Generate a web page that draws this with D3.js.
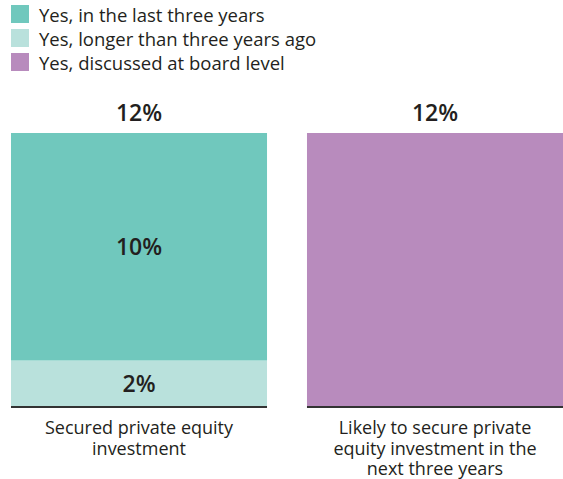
<!DOCTYPE html>
<html>
<head>
<meta charset="utf-8">
<script src="https://cdn.jsdelivr.net/npm/d3@7"></script>
<style>
  html, body { margin: 0; padding: 0; background: #fff; }
  svg { display: block; font-family: "Open Sans", Lato, sans-serif; }
</style>
</head>
<body>
<svg id="chart" width="563" height="479"></svg>
<script>
// Categories (multi-line labels) and stacked series values, in percent
const categories = ["Secured private equity investment", "Likely to secure private equity investment in the next three years"];
const categoryLines = [
  ["Secured private equity", "investment"],
  ["Likely to secure private", "equity investment in the", "next three years"]
];
const seriesNames = ["Yes, longer than three years ago", "Yes, in the last three years", "Yes, discussed at board level"];
const longerAgo = [2, 0];
const lastThree = [10, 0];
const boardLevel = [0, 12];
const totals = [12, 12];
const legendOrder = ["Yes, in the last three years", "Yes, longer than three years ago", "Yes, discussed at board level"];

const colors = {
  "Yes, in the last three years": "#70c8bd",
  "Yes, longer than three years ago": "#b9e1dc",
  "Yes, discussed at board level": "#b88bbd"
};

const svg = d3.select("#chart");
const textColor = "#231f20";

const x = d3.scaleBand().domain(categories).range([11, 563]).paddingInner(0.135).paddingOuter(0);
const y = d3.scaleLinear().domain([0, 12]).range([406, 133]);

const rows = categories.map((c, i) => ({
  category: c,
  "Yes, longer than three years ago": longerAgo[i],
  "Yes, in the last three years": lastThree[i],
  "Yes, discussed at board level": boardLevel[i]
}));
const stacked = d3.stack().keys(seriesNames)(rows);

// Bars
svg.append("g").selectAll("g")
  .data(stacked)
  .join("g")
  .attr("fill", d => colors[d.key])
  .selectAll("rect")
  .data(d => d.filter(p => p[1] - p[0] > 0))
  .join("rect")
  .attr("x", d => x(d.data.category))
  .attr("width", x.bandwidth())
  .attr("y", d => y(d[1]))
  .attr("height", d => y(d[0]) - y(d[1]));

// Segment labels (only on stacks that have more than one segment)
svg.append("g").selectAll("g")
  .data(stacked)
  .join("g")
  .selectAll("text")
  .data(d => d.filter(p => p[1] - p[0] > 0 && p[1] - p[0] < 12))
  .join("text")
  .attr("x", d => x(d.data.category) + x.bandwidth() / 2)
  .attr("y", d => (y(d[0]) + y(d[1])) / 2)
  .attr("dy", "0.36em")
  .attr("text-anchor", "middle")
  .attr("font-size", 23)
  .attr("font-weight", 600)
  .attr("fill", textColor)
  .text(d => (d[1] - d[0]) + "%");

// Totals above the bars
svg.append("g").selectAll("text")
  .data(categories)
  .join("text")
  .attr("x", c => x(c) + x.bandwidth() / 2)
  .attr("y", (c, i) => y(totals[i]) - 12)
  .attr("text-anchor", "middle")
  .attr("font-size", 23)
  .attr("font-weight", 600)
  .attr("fill", textColor)
  .text((c, i) => totals[i] + "%");

// Baselines under each bar
svg.append("g").selectAll("line")
  .data(categories)
  .join("line")
  .attr("x1", c => x(c))
  .attr("x2", c => x(c) + x.bandwidth())
  .attr("y1", y(0) + 1)
  .attr("y2", y(0) + 1)
  .attr("stroke", "#333")
  .attr("stroke-width", 2);

// Category labels
svg.append("g").selectAll("text")
  .data(categories)
  .join("text")
  .attr("x", c => x(c) + x.bandwidth() / 2)
  .attr("y", y(0) + 28)
  .attr("text-anchor", "middle")
  .attr("font-size", 18)
  .attr("fill", textColor)
  .each(function(c, i) {
    d3.select(this).selectAll("tspan")
      .data(categoryLines[i])
      .join("tspan")
      .attr("x", x(c) + x.bandwidth() / 2)
      .attr("dy", (d, j) => j === 0 ? 0 : "1.15em")
      .text(d => d);
  });

// Legend
const legend = svg.append("g").selectAll("g")
  .data(legendOrder)
  .join("g")
  .attr("transform", (d, i) => `translate(11, ${5 + i * 24})`);
legend.append("rect")
  .attr("width", 18)
  .attr("height", 18)
  .attr("fill", d => colors[d]);
legend.append("text")
  .attr("x", 28)
  .attr("y", 16.5)
  .attr("font-size", 18.5)
  .attr("fill", textColor)
  .text(d => d);
</script>
</body>
</html>
